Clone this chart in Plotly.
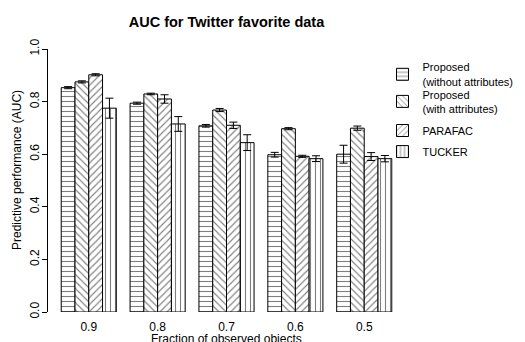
import plotly.graph_objects as go

categories = ["0.9", "0.8", "0.7", "0.6", "0.5"]
series_names = ["Proposed<br>(without attributes)", "Proposed<br>(with attributes)", "PARAFAC", "TUCKER"]
prop_wo = [0.853, 0.794, 0.708, 0.598, 0.600]
prop_wo_err = [0.004, 0.004, 0.005, 0.009, 0.034]
prop_w = [0.875, 0.829, 0.768, 0.697, 0.699]
prop_w_err = [0.004, 0.003, 0.006, 0.004, 0.008]
parafac = [0.902, 0.810, 0.710, 0.592, 0.591]
parafac_err = [0.004, 0.016, 0.012, 0.004, 0.015]
tucker = [0.775, 0.715, 0.644, 0.583, 0.583]
tucker_err = [0.038, 0.028, 0.030, 0.011, 0.012]

values = [prop_wo, prop_w, parafac, tucker]
errors = [prop_wo_err, prop_w_err, parafac_err, tucker_err]
patterns = ["-", "\\", "/", "|"]
legend_ids = ["legend", "legend2", "legend3", "legend4"]
legend_y = [0.903, 0.80, 0.69, 0.61]

FONT = "Liberation Sans, Arial, Helvetica, sans-serif"

fig = go.Figure()
for name, v, e, p, lg in zip(series_names, values, errors, patterns, legend_ids):
    fig.add_trace(go.Bar(
        x=categories, y=v, name=name, legend=lg, showlegend=True,
        marker=dict(color="white", line=dict(color="black", width=1),
                    pattern=dict(shape=p, size=5, solidity=0.22, fgcolor="black", bgcolor="white")),
        error_y=dict(type="data", array=e, color="black", thickness=1, width=4),
    ))

layout_legends = {}
for lg, ly in zip(legend_ids, legend_y):
    layout_legends[lg] = dict(x=0.937, xanchor="left", y=ly, yanchor="middle",
                              bgcolor="rgba(0,0,0,0)", borderwidth=0,
                              font=dict(family=FONT, size=11, color="black"),
                              itemclick=False, visible=True)

fig.update_layout(
    width=525, height=342,
    margin=dict(l=48, r=120, t=49, b=30, autoexpand=False),
    paper_bgcolor="white", plot_bgcolor="white",
    showlegend=True,
    barmode="group", bargap=0.2, bargroupgap=0,
    font=dict(family=FONT, size=12, color="black"),
    title=dict(text="<b>AUC for Twitter favorite data</b>", x=0.4314, xanchor="center",
               y=1 - 22 / 342, yanchor="middle", font=dict(size=14.5, family=FONT, color="black")),
    xaxis=dict(range=[-0.592, 4.592], showline=False, showgrid=False, zeroline=False,
               ticks="outside", ticklen=4, tickcolor="rgba(0,0,0,0)", automargin=False,
               tickfont=dict(size=12, family=FONT, color="black")),
    yaxis=dict(range=[0, 1], showline=True, linecolor="black", linewidth=1, automargin=False,
               showgrid=False, zeroline=False, ticks="outside", ticklen=5, tickwidth=1,
               tickcolor="black", tickvals=[0, 0.2, 0.4, 0.6, 0.8, 1.0],
               ticktext=["0.0", "0.2", "0.4", "0.6", "0.8", "1.0"], tickangle=-90,
               ticklabelstandoff=-2,
               tickfont=dict(size=12, family=FONT, color="black")),
    annotations=[
        dict(text="Fraction of observed objects", xref="paper", yref="paper",
             x=0.5, y=(312 - 338.5) / 263, xanchor="center", yanchor="middle",
             showarrow=False, font=dict(size=12, family=FONT, color="black")),
        dict(text="Predictive performance (AUC)", xref="paper", yref="paper",
             x=(17 - 48) / 357, y=(312 - 170) / 263, xanchor="center", yanchor="middle",
             textangle=-90, showarrow=False, font=dict(size=12, family=FONT, color="black")),
    ],
    **layout_legends,
)

fig.write_html("out.html")
